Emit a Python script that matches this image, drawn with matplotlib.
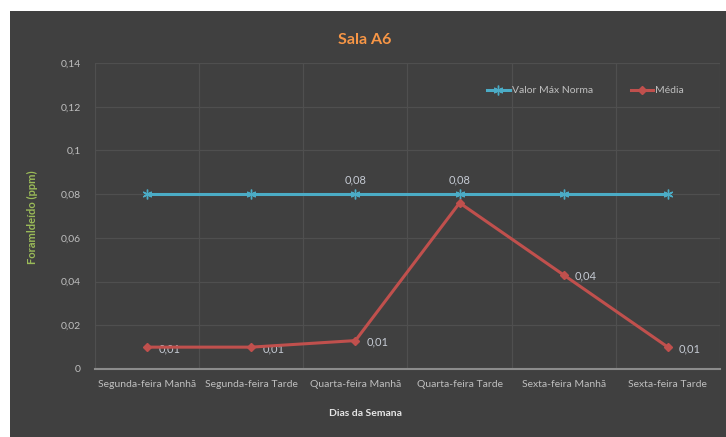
import matplotlib
matplotlib.use("Agg")
import matplotlib.pyplot as plt
from matplotlib.patches import Rectangle
from matplotlib.ticker import FixedLocator

# dados da sala A6
dias = ["Segunda-feira Manhã", "Segunda-feira Tarde", "Quarta-feira Manhã",
        "Quarta-feira Tarde", "Sexta-feira Manhã", "Sexta-feira Tarde"]
valor_max_norma = [0.08, 0.08, 0.08, 0.08, 0.08, 0.08]
media = [0.010, 0.010, 0.013, 0.076, 0.043, 0.010]
yticks = [0, 0.02, 0.04, 0.06, 0.08, 0.1, 0.12, 0.14]

# quais pontos levam rotulo
rotulos_norma = [2, 3]
rotulos_media = [0, 1, 2, 4, 5]

W, H = 726, 437
bg = "#404040"
grid_c = "#4f4f4f"
txt = "#bfbfbf"
lbl = "#c5cad3"
azul = "#4bacc6"
verm = "#c0504d"

plt.rcParams["font.family"] = ["Lato", "DejaVu Sans"]

fig = plt.figure(figsize=(W / 100, H / 100), dpi=100)
fig.patch.set_facecolor("white")
fig.patches.append(Rectangle((10 / W, 0), 1 - 10 / W, 1 - 11 / H,
                             transform=fig.transFigure, facecolor=bg,
                             edgecolor="none", zorder=-10))

ax = fig.add_axes([95 / W, 1 - 369 / H, 625 / W, 306 / H])
ax.set_facecolor(bg)
x = list(range(len(dias)))

ax.plot(x, valor_max_norma, color=azul, lw=2.2, marker=(6, 2, 0), ms=7,
        mew=1.0, label="Valor Máx Norma", zorder=3)
ax.plot(x, media, color=verm, lw=2.2, marker="D", ms=4.5,
        label="Média", zorder=4)

def fmt(v):
    return ("%.2f" % v).replace(".", ",")

for i in rotulos_norma:
    ax.annotate(fmt(valor_max_norma[i]), (x[i], valor_max_norma[i]),
                xytext=(0, 6), textcoords="offset points", ha="center",
                va="bottom", color=lbl, fontsize=8)
for i in rotulos_media:
    ax.annotate(fmt(media[i]), (x[i], media[i]), xytext=(8, -1),
                textcoords="offset points", ha="left", va="center",
                color=lbl, fontsize=8)

ax.set_xlim(-0.5, len(dias) - 0.5)
ax.set_ylim(0, 0.14)
ax.set_yticks(yticks)
ax.set_yticklabels([("%g" % t).replace(".", ",") for t in yticks])
ax.set_xticks(x)
ax.set_xticklabels(dias)
ax.xaxis.set_minor_locator(FixedLocator([i + 0.5 for i in range(-1, len(dias))]))
ax.tick_params(axis="both", which="both", length=0, colors=txt, labelsize=7.5)
ax.tick_params(axis="x", pad=8)
ax.tick_params(axis="y", pad=10)

ax.grid(axis="y", which="major", color=grid_c, lw=0.9)
ax.grid(axis="x", which="minor", color=grid_c, lw=0.9)
for s in ["top", "right", "left"]:
    ax.spines[s].set_visible(False)
ax.spines["bottom"].set_color("#8c8c8c")
ax.spines["bottom"].set_linewidth(1.5)

fig.text(365 / W, 1 - 40 / H, "Sala A6", ha="center", va="center",
         color="#f79646", fontsize=11.5, fontweight="bold")
fig.text(32 / W, 1 - 217 / H, "Foramldeído (ppm)", rotation=90,
         ha="center", va="center", color="#9bbb59", fontsize=8,
         fontweight="bold")
fig.text(365 / W, 1 - 414 / H, "Dias da Semana", ha="center", va="center",
         color="#e6e6e6", fontsize=7.5, fontweight="bold")

leg = ax.legend(loc="upper left", bbox_to_anchor=(0.612, 0.955), ncol=2,
                frameon=False, fontsize=7.5, handlelength=2.2,
                columnspacing=3.6, handletextpad=0.2)
for t in leg.get_texts():
    t.set_color(txt)

fig.savefig("out.png", dpi=100, facecolor=fig.get_facecolor())
